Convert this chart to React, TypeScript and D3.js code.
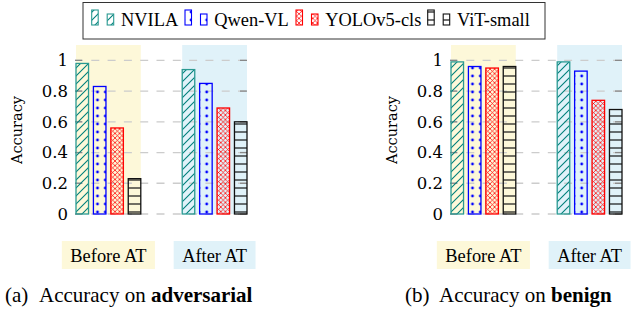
import React, { useEffect, useRef } from "react";
import * as d3 from "d3";

// chart data
const models = ["NVILA", "Qwen-VL", "YOLOv5-cls", "ViT-small"];
const phases = ["Before AT", "After AT"];
const advBefore = [0.98, 0.83, 0.56, 0.23];
const advAfter = [0.94, 0.85, 0.69, 0.6];
const benBefore = [0.99, 0.96, 0.95, 0.96];
const benAfter = [0.99, 0.93, 0.74, 0.68];
const yTicks = [0, 0.2, 0.4, 0.6, 0.8, 1];
const yTickLabels = ["0", "0.2", "0.4", "0.6", "0.8", "1"];

const W = 634;
const H = 311;
const serif = "'Liberation Serif', 'Times New Roman', serif";
const tickFont = "'DejaVu Serif', serif";
const strokeColors = ["#2a9a92", "#0000ff", "#ff0000", "#111111"];
const phaseFill = ["#fdf8d9", "#e0f2f9"];

export default function App() {
  const ref = useRef<SVGSVGElement>(null);

  useEffect(() => {
    const svg = d3.select(ref.current);
    svg.selectAll("*").remove();

    // fill patterns, anchored to the page like tikz patterns
    const defs = svg.append("defs");
    const hatch = defs.append("pattern").attr("id", "pat0")
      .attr("patternUnits", "userSpaceOnUse").attr("width", 8).attr("height", 8);
    hatch.append("path").attr("d", "M-2,2 L2,-2 M0,8 L8,0 M6,10 L10,6")
      .attr("stroke", "#00807a").attr("stroke-width", 1.1);

    const dots = defs.append("pattern").attr("id", "pat1")
      .attr("patternUnits", "userSpaceOnUse").attr("width", 7.8).attr("height", 8);
    dots.append("circle").attr("cx", 3.9).attr("cy", 4).attr("r", 1.4).attr("fill", "#0000ff");

    const cross = defs.append("pattern").attr("id", "pat2")
      .attr("patternUnits", "userSpaceOnUse").attr("width", 4.6).attr("height", 4.6);
    cross.append("path").attr("d", "M0,0 L4.6,4.6 M0,4.6 L4.6,0")
      .attr("stroke", "#ff0000").attr("stroke-width", 0.75);

    const hlines = defs.append("pattern").attr("id", "pat3")
      .attr("patternUnits", "userSpaceOnUse").attr("width", 8).attr("height", 8);
    hlines.append("line").attr("x1", 0).attr("x2", 8).attr("y1", 4).attr("y2", 4)
      .attr("stroke", "#111").attr("stroke-width", 1.2);

    // legend
    const legend = svg.append("g");
    legend.append("rect").attr("x", 83).attr("y", 2.5).attr("width", 462).attr("height", 36.5)
      .attr("fill", "white").attr("stroke", "#333").attr("stroke-width", 1);
    const legendX = [91.7, 185, 296, 427.7];
    models.forEach((m, i) => {
      const lx = legendX[i];
      legend.append("rect").attr("x", lx).attr("y", 10).attr("width", 6.5).attr("height", 15)
        .attr("fill", `url(#pat${i})`).attr("stroke", strokeColors[i]).attr("stroke-width", 1.1);
      legend.append("rect").attr("x", lx + 15.5).attr("y", 14).attr("width", 6.5).attr("height", 11)
        .attr("fill", `url(#pat${i})`).attr("stroke", strokeColors[i]).attr("stroke-width", 1.1);
      legend.append("text").attr("x", lx + 29.3).attr("y", 26)
        .attr("font-family", serif).attr("font-size", 18.4).attr("fill", "#000").text(m);
    });

    function drawChart(offset: number, before: number[], after: number[], tag: string, word: string, capX: number) {
      const g = svg.append("g").attr("transform", `translate(${offset},0)`);
      const axisL = 75;
      const axisR = 247;

      const y = d3.scaleLinear().domain([0, 1.1]).range([214, 45]);
      const x0 = d3.scaleBand().domain(phases).range([76, axisR]).paddingInner(0.39);
      const x1 = d3.scaleBand().domain(models).range([0, x0.bandwidth()]).paddingInner(0.28);

      // shaded group panels
      g.selectAll("rect.panel").data(phases).join("rect")
        .attr("class", "panel")
        .attr("x", (d) => x0(d)!)
        .attr("y", y(1.1))
        .attr("width", x0.bandwidth())
        .attr("height", y(0) - y(1.1))
        .attr("fill", (d, i) => phaseFill[i]);

      // dashed grid
      g.selectAll("line.grid").data(yTicks).join("line")
        .attr("class", "grid")
        .attr("x1", axisL).attr("x2", axisR)
        .attr("y1", (d) => y(d)).attr("y2", (d) => y(d))
        .attr("stroke", "#cccccc").attr("stroke-width", 1.3)
        .attr("stroke-dasharray", "8 8.3");

      // ticks on both sides
      g.selectAll("line.tl").data(yTicks).join("line")
        .attr("class", "tl")
        .attr("x1", axisL).attr("x2", axisL + 7)
        .attr("y1", (d) => y(d)).attr("y2", (d) => y(d))
        .attr("stroke", "#888").attr("stroke-width", 1.3);
      g.selectAll("line.tr").data(yTicks).join("line")
        .attr("class", "tr")
        .attr("x1", axisR - 7).attr("x2", axisR)
        .attr("y1", (d) => y(d)).attr("y2", (d) => y(d))
        .attr("stroke", "#888").attr("stroke-width", 1.3);

      g.selectAll("text.tick").data(yTicks).join("text")
        .attr("class", "tick")
        .attr("x", axisL - 7)
        .attr("y", (d) => y(d))
        .attr("dy", "0.36em")
        .attr("text-anchor", "end")
        .attr("font-family", tickFont).attr("font-size", 16.5)
        .text((d, i) => yTickLabels[i]);

      g.append("text")
        .attr("transform", "translate(22,130) rotate(-90)")
        .attr("text-anchor", "middle")
        .attr("font-family", tickFont).attr("font-size", 14.5)
        .text("Accuracy");

      // bars
      const series = [before, after];
      phases.forEach((p, pi) => {
        const gg = g.append("g");
        gg.selectAll("rect").data(series[pi]).join("rect")
          .attr("x", (d, i) => x0(p)! + x1(models[i])!)
          .attr("y", (d) => y(d))
          .attr("width", x1.bandwidth())
          .attr("height", (d) => y(0) - y(d))
          .attr("fill", (d, i) => `url(#pat${i})`)
          .attr("stroke", (d, i) => strokeColors[i])
          .attr("stroke-width", 1.3);
      });

      // group labels in coloured boxes
      phases.forEach((p, pi) => {
        const cx = x0(p)! + x0.bandwidth() / 2;
        const box = g.append("rect");
        const t = g.append("text")
          .attr("x", cx).attr("y", 261.5)
          .attr("text-anchor", "middle")
          .attr("font-family", serif).attr("font-size", 18.4)
          .text(p);
        const tw = (t.node() as SVGTextElement).getComputedTextLength();
        box.attr("x", cx - tw / 2 - 8.5).attr("y", 241)
          .attr("width", tw + 17).attr("height", 28)
          .attr("fill", phaseFill[pi]);
      });

      // caption
      const cap = svg.append("text").attr("y", 302)
        .attr("font-family", serif).attr("font-size", 21);
      cap.append("tspan").attr("x", capX).text(tag);
      cap.append("tspan").attr("x", capX + 34).text("Accuracy on ");
      cap.append("tspan").attr("font-weight", "bold").text(word);
    }

    drawChart(0, advBefore, advAfter, "(a)", "adversarial", 5);
    drawChart(375, benBefore, benAfter, "(b)", "benign", 405);
  }, []);

  return (
    <svg ref={ref} width={W} height={H}
      style={{ position: "absolute", left: 0, top: 0, background: "white" }} />
  );
}
